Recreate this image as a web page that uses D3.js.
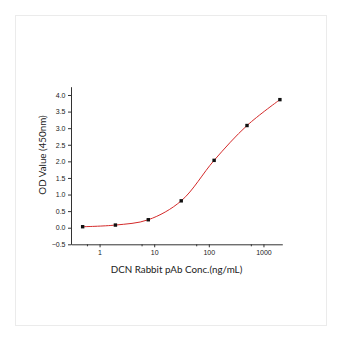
<!DOCTYPE html>
<html>
<head>
<meta charset="utf-8">
<script src="https://cdn.jsdelivr.net/npm/d3@7"></script>
<style>
  body { margin: 0; background: #fff; }
  .tick text { font-family: "Liberation Sans", Arial, sans-serif; font-size: 7px; fill: #222; }
  .axis path, .axis line { stroke: #333; }
  .title { font-family: Lato, "Open Sans", sans-serif; fill: #222; }
</style>
</head>
<body>
<div id="chart"></div>
<script>
// concentrations (ng/mL) and OD readings
var conc = [0.49, 1.95, 7.8, 31.25, 125, 500, 2000];
var od = [0.03, 0.08, 0.24, 0.81, 2.03, 3.08, 3.86];

var xMajor = [1, 10, 100, 1000];
var xMinor = [0.6, 6, 60, 600];
var yTicks = [-0.5, 0, 0.5, 1, 1.5, 2, 2.5, 3, 3.5, 4];

var W = 353, H = 338;

var svg = d3.select("#chart").append("svg")
  .attr("width", W)
  .attr("height", H);

// light frame round the figure
svg.append("rect")
  .attr("x", 15.5).attr("y", 15.5)
  .attr("width", 311).attr("height", 310)
  .attr("fill", "none")
  .attr("stroke", "#ebebeb");

var x = d3.scaleLog().domain([0.3, 2213]).range([71, 282.3]);
var y = d3.scaleLinear().domain([-0.5, 4.25]).range([244.3, 86.7]);

var yAxis = svg.append("g")
  .attr("class", "axis")
  .attr("transform", "translate(71,0)")
  .call(d3.axisLeft(y).tickValues(yTicks).tickFormat(d3.format(".1f")).tickSize(3).tickSizeOuter(0).tickPadding(2.5));

var xAxis = svg.append("g")
  .attr("class", "axis")
  .attr("transform", "translate(0,244.3)")
  .call(d3.axisBottom(x).tickValues(xMajor).tickFormat(d3.format("d")).tickSize(3).tickSizeOuter(0).tickPadding(2.5));

xAxis.selectAll(".minor").data(xMinor)
  .join("line")
  .attr("class", "minor")
  .attr("x1", d => x(d)).attr("x2", d => x(d))
  .attr("y1", 0).attr("y2", 2)
  .attr("stroke", "#333");

// fitted curve
svg.append("path")
  .datum(conc.map((c, i) => [c, od[i]]))
  .attr("fill", "none")
  .attr("stroke", "#d42a2a")
  .attr("stroke-width", 1)
  .attr("d", d3.line().x(d => x(d[0])).y(d => y(d[1])).curve(d3.curveCatmullRom.alpha(0.5)));

svg.selectAll(".pt").data(conc)
  .join("rect")
  .attr("class", "pt")
  .attr("x", (d) => x(d) - 1.7)
  .attr("y", (d, i) => y(od[i]) - 1.7)
  .attr("width", 3.4).attr("height", 3.4)
  .attr("fill", "#111");

svg.append("text")
  .attr("class", "title")
  .attr("x", 176.5).attr("y", 273)
  .attr("text-anchor", "middle")
  .attr("font-size", 9.8)
  .text("DCN Rabbit pAb Conc.(ng/mL)");

svg.append("text")
  .attr("class", "title")
  .attr("transform", "translate(45.5,155) rotate(-90)")
  .attr("text-anchor", "middle")
  .attr("font-size", 9.8)
  .text("OD Value (450nm)");
</script>
</body>
</html>
